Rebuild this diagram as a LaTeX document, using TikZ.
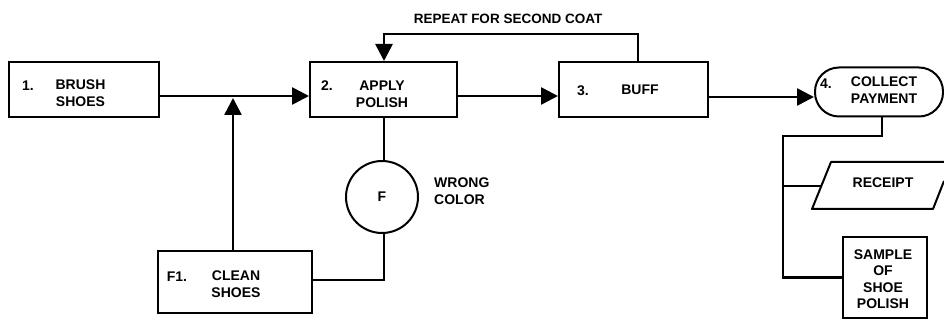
\documentclass[tikz,border=0pt]{standalone}
\usepackage{fontspec}
\setmainfont{Liberation Sans}
\usetikzlibrary{arrows.meta}
\begin{document}
\begin{tikzpicture}[x=1pt,y=-1pt,
  every node/.style={font=\fontsize{14}{17}\selectfont\bfseries, inner sep=0pt},
  box/.style={draw, line width=2pt, rectangle},
  conn/.style={line width=2.6pt},
  arr/.style={conn, -{Triangle[length=17pt,width=17pt]}},
  lbl/.style={align=center}]
\useasboundingbox (0,0) rectangle (944,320);
% boxes
\node[box, minimum width=150pt, minimum height=55pt] (b1) at (84,89.5) {};
\node[box, minimum width=147pt, minimum height=55pt] (b2) at (383.5,89.5) {};
\node[box, minimum width=149pt, minimum height=55pt] (b3) at (633.5,89.5) {};
\node[box, minimum width=128pt, minimum height=49pt, rounded corners=24pt] (term) at (879,92) {};
\node[box, circle, minimum size=72pt] (circ) at (382,197) {};
\node[box, minimum width=154pt, minimum height=62pt] (f1) at (235,282) {};
\node[box, minimum width=84pt, minimum height=80pt] (smp) at (885,277.5) {};
% receipt parallelogram (clipped by the picture edge)
\draw[line width=2pt, line join=round] (944,181) -- (933,209) -- (812,209) -- (831,162) -- (944,162);
\coordinate (rcl) at (821.5,186);
% texts
\node at (28,86) {1.};
\node[lbl] at (80.5,93) {BRUSH\\SHOES};
\node at (327,86) {2.};
\node[lbl] at (382,94) {APPLY\\POLISH};
\node at (583,91) {3.};
\node at (640,90) {BUFF};
\node at (826,84) {4.};
\node[lbl] at (884,90.5) {COLLECT\\PAYMENT};
\node at (circ) {F};
\node at (177,277) {F1.};
\node[lbl] at (236,284.5) {CLEAN\\SHOES};
\node (rc) at (883,183) {RECEIPT};
\node[lbl, font=\fontsize{14}{16.5}\selectfont\bfseries] at (883,279) {SAMPLE\\OF\\SHOE\\POLISH};
\node[lbl, align=left, anchor=west] at (434,191) {WRONG\\COLOR};
\node[font=\fontsize{13.5}{16}\selectfont\bfseries] at (508,19) {REPEAT FOR SECOND COAT};
% connectors
\coordinate (j) at (233,96);
\coordinate (r2) at (700,97);
\coordinate (lp) at (384,34);
\coordinate (t1) at (783,136);
\draw[conn] (b1.east |- j) -- (j);
\draw[arr] (j) -- (b2.west |- j);
\draw[arr] (j |- f1.north) -- ([yshift=-2pt]j);
\draw[arr] (b2.east |- j) -- (b3.west |- j);
\draw[arr] (b3.east |- r2) -- (term.west |- r2);
\draw[arr] ([xshift=4.5pt]b3.north) |- (lp) -- (lp |- b2.north);
\draw[conn] (lp |- b2.south) -- (lp |- circ.north);
\draw[conn] (lp |- circ.south) |- ([yshift=2pt]f1.east);
\draw[conn] ([xshift=3pt]term.south) |- (t1) -- (t1 |- smp.west) -- (smp.west);
\draw[conn] (t1 |- rcl) -- (rcl);
\end{tikzpicture}
\end{document}
